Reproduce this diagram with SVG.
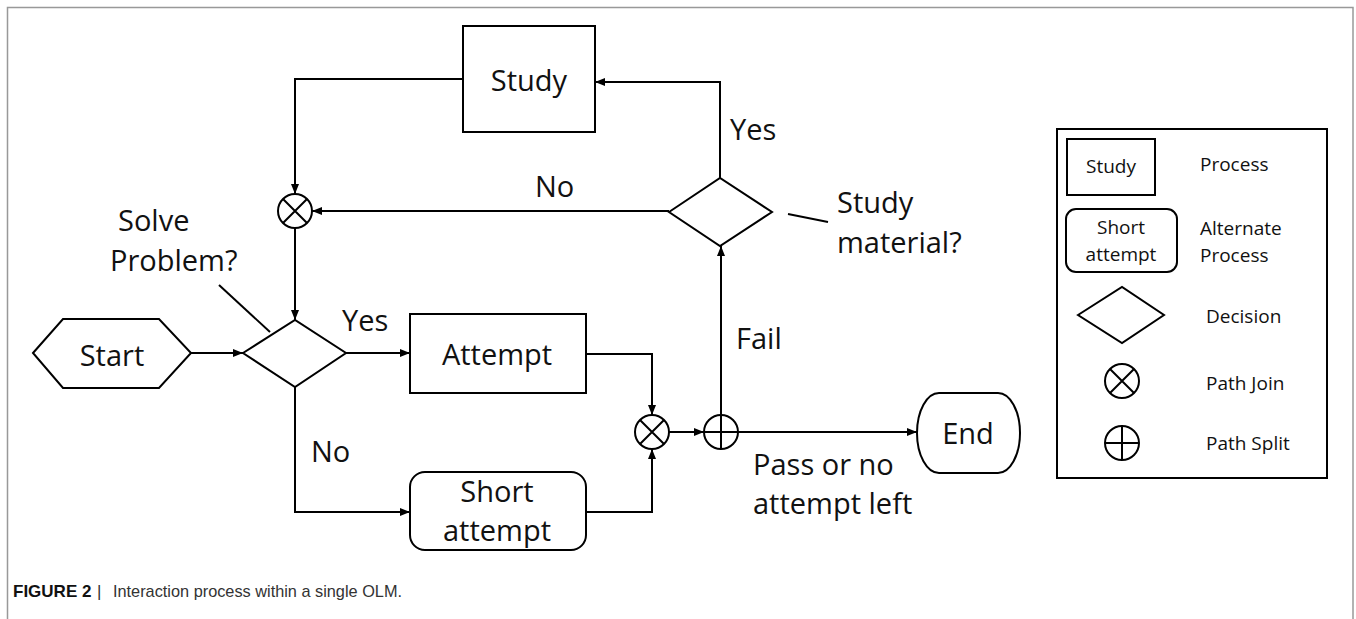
<svg xmlns="http://www.w3.org/2000/svg" width="1356" height="619" viewBox="0 0 1356 619">
<defs>
<marker id="arr" viewBox="0 0 10 8" refX="10" refY="4" markerWidth="10" markerHeight="8" markerUnits="userSpaceOnUse" orient="auto">
<path d="M0,0 L10,4 L0,8 z" fill="#000"/>
</marker>
</defs>
<style>
.shape{fill:#fff;stroke:#000;stroke-width:2}
.sym{fill:none;stroke:#000;stroke-width:2}
.conn{fill:none;stroke:#000;stroke-width:2}
.t{font-family:"Open Sans","Liberation Sans",sans-serif;font-size:29px;fill:#111}
.c{text-anchor:middle}
.lg{font-family:"Open Sans","Liberation Sans",sans-serif;font-size:19px;fill:#111}
.cap{font-family:"Liberation Sans",Arial,sans-serif;font-size:17px;fill:#333}
</style>
<rect width="1356" height="619" fill="#fff"/>
<path d="M7.5,619 V7.5 H1353 V619" fill="none" stroke="#999" stroke-width="1.5"/>

<g id="connectors">
<polyline class="conn" points="463,79 295,79 295,194" marker-end="url(#arr)"/>
<line class="conn" x1="669" y1="211" x2="312" y2="211" marker-end="url(#arr)"/>
<line class="conn" x1="295" y1="228" x2="295" y2="320" marker-end="url(#arr)"/>
<polyline class="conn" points="720,178 720,82 595,82" marker-end="url(#arr)"/>
<line class="conn" x1="191" y1="353" x2="243" y2="353" marker-end="url(#arr)"/>
<line class="conn" x1="346" y1="353" x2="410" y2="353" marker-end="url(#arr)"/>
<polyline class="conn" points="295,387 295,512 410,512" marker-end="url(#arr)"/>
<polyline class="conn" points="586,354 652,354 652,415" marker-end="url(#arr)"/>
<polyline class="conn" points="586,512 652,512 652,449" marker-end="url(#arr)"/>
<line class="conn" x1="669" y1="432" x2="704" y2="432" marker-end="url(#arr)"/>
<line class="conn" x1="721" y1="415" x2="721" y2="246" marker-end="url(#arr)"/>
<line class="conn" x1="738" y1="432" x2="917" y2="432" marker-end="url(#arr)"/>
<line class="conn" x1="219" y1="285" x2="270" y2="332"/>
<line class="conn" x1="788" y1="214" x2="828" y2="222"/>
<text class="t" x="535" y="197">No</text>
<text class="t" x="730" y="140">Yes</text>
<text class="t" x="342" y="331">Yes</text>
<text class="t" x="311" y="462">No</text>
<text class="t" x="736" y="349">Fail</text>
<text class="t" x="753" y="475">Pass or no</text>
<text class="t" x="753" y="514">attempt left</text>
</g>

<g id="study">
<rect class="shape" x="463" y="26" width="132" height="106"/>
<text class="t c" x="529" y="91">Study</text>
</g>

<g id="join1">
<circle class="shape" cx="295" cy="211" r="17"/>
<path class="sym" d="M283,199 L307,223 M307,199 L283,223"/>
</g>

<g id="decision-study">
<polygon class="shape" points="669,212 720,178 772,212 720,246"/>
<text class="t" x="837" y="213">Study</text>
<text class="t" x="837" y="253">material?</text>
</g>

<g id="start">
<polygon class="shape" points="33,353 63,319 159,319 191,353 159,388 63,388"/>
<text class="t c" x="112" y="366">Start</text>
</g>

<g id="decision-solve">
<polygon class="shape" points="243,353 295,320 346,353 295,387"/>
<text class="t" x="118" y="231">Solve</text>
<text class="t" x="110" y="271">Problem?</text>
</g>

<g id="attempt">
<rect class="shape" x="410" y="314" width="176" height="79"/>
<text class="t c" x="497" y="365">Attempt</text>
</g>

<g id="short-attempt">
<rect class="shape" x="410" y="472" width="176" height="78" rx="15"/>
<text class="t c" x="497" y="502">Short</text>
<text class="t c" x="497" y="541">attempt</text>
</g>

<g id="join2">
<circle class="shape" cx="652" cy="432" r="17"/>
<path class="sym" d="M640,420 L664,444 M664,420 L640,444"/>
</g>

<g id="split">
<circle class="shape" cx="721" cy="432" r="17"/>
<path class="sym" d="M704,432 H738 M721,415 V449"/>
</g>

<g id="end">
<rect class="shape" x="917" y="393" width="103" height="80" rx="22" ry="40"/>
<text class="t c" x="968" y="444">End</text>
</g>

<g id="legend">
<rect class="shape" x="1057" y="129" width="270" height="349"/>
<rect class="shape" x="1067" y="139" width="88" height="56"/>
<text class="lg c" x="1111" y="173">Study</text>
<text class="lg" x="1200" y="171">Process</text>
<rect class="shape" x="1066" y="209" width="111" height="63" rx="10"/>
<text class="lg c" x="1121" y="234">Short</text>
<text class="lg c" x="1121" y="261">attempt</text>
<text class="lg" x="1200" y="235">Alternate</text>
<text class="lg" x="1200" y="262">Process</text>
<polygon class="shape" points="1078,315 1122,287 1164,315 1122,343"/>
<text class="lg" x="1206" y="323">Decision</text>
<circle class="shape" cx="1122" cy="381" r="17"/>
<path class="sym" d="M1110,369 L1134,393 M1134,369 L1110,393"/>
<text class="lg" x="1206" y="390">Path Join</text>
<circle class="shape" cx="1122" cy="443" r="17"/>
<path class="sym" d="M1105,443 H1139 M1122,426 V460"/>
<text class="lg" x="1206" y="450">Path Split</text>
</g>

<g id="caption">
<text class="cap" x="13" y="597" font-weight="bold" fill="#111" style="fill:#111">FIGURE 2</text>
<text class="cap" x="97" y="597">|</text>
<text class="cap" x="113" y="597" textLength="289" lengthAdjust="spacingAndGlyphs">Interaction process within a single OLM.</text>
</g>
</svg>
